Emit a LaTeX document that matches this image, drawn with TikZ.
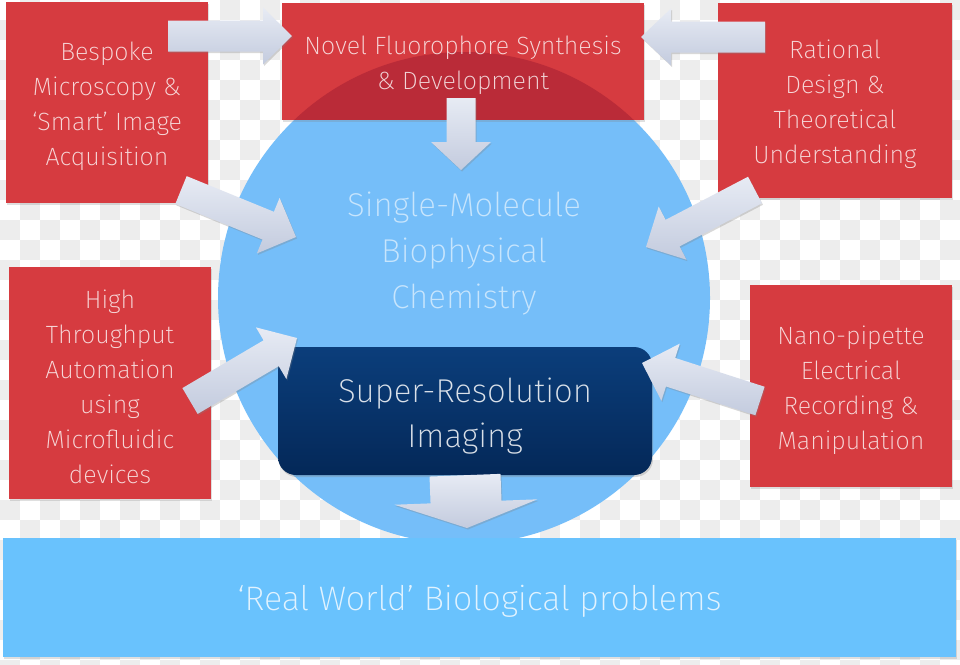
\documentclass[tikz,border=0pt]{standalone}
\usepackage{fontspec}
\setmainfont{Fira Sans ExtraLight}
\usepackage{tikz}
\usetikzlibrary{positioning, calc, shadows}
\definecolor{boxred}{HTML}{D63B40}
\definecolor{overlapred}{HTML}{BA2B38}
\definecolor{circblue}{HTML}{75BEF9}
\definecolor{worldblue}{HTML}{69C2FD}
\definecolor{srtop}{HTML}{0B3E7B}
\definecolor{srbot}{HTML}{042858}
\definecolor{arrowtop}{HTML}{E7EBF4}
\definecolor{arrowbot}{HTML}{C3CBDE}
\definecolor{checkgray}{HTML}{EDEDED}
\tikzset{
  redbox/.style={rectangle,fill=boxred,inner sep=0pt,
    drop shadow={opacity=.25,shadow xshift=1pt,shadow yshift=-2pt}},
  redtext/.style={text=white,text opacity=.8,align=center,yshift=-4pt,font=\fontsize{25}{35}\selectfont},
  bigcircle/.style={circle,fill=circblue,inner sep=0pt,minimum size=492pt},
  circtext/.style={text=white,text opacity=.6,align=center,font=\fontsize{33}{46}\selectfont},
  srbox/.style={rectangle,rounded corners=18pt,top color=srtop,bottom color=srbot,inner sep=0pt,
    minimum width=374pt,minimum height=128pt,drop shadow={opacity=.3,shadow xshift=1pt,shadow yshift=-2pt}},
  srtext/.style={text=white,text opacity=.85,align=center,yshift=-5pt,font=\fontsize{33}{45}\selectfont},
  worldbox/.style={rectangle,fill=worldblue,inner sep=0pt,minimum width=953pt,minimum height=119pt,
    drop shadow={opacity=.25,shadow xshift=1pt,shadow yshift=-2pt}},
  worldtext/.style={text=white,text opacity=.8,yshift=-4pt,font=\fontsize{34}{40}\selectfont},
  fatarrow/.style={top color=arrowtop,bottom color=arrowbot,
    drop shadow={opacity=.3,shadow xshift=1pt,shadow yshift=-1.5pt}},
}
% tail, tip, shaft half width, head half width, head length
\newcommand\fatarrow[5]{%
  \path[fatarrow] ($(#1)!#3!90:(#2)$) -- ($($(#2)!#5!(#1)$)!#3!90:(#2)$)
    -- ($($(#2)!#5!(#1)$)!#4!90:(#2)$) -- (#2)
    -- ($($(#2)!#5!(#1)$)!#4!-90:(#2)$) -- ($($(#2)!#5!(#1)$)!#3!-90:(#2)$)
    -- ($(#1)!#3!-90:(#2)$) -- cycle;}

\begin{document}
\begin{tikzpicture}[x=1pt,y=-1pt]
  \useasboundingbox (0,0) rectangle (960,664);
  \fill[white] (0,0) rectangle (960,664);
  \foreach \i in {0,2,...,46}
    \foreach \j in {0,2,...,32} {
      \fill[checkgray] (\i*20+20,\j*20) rectangle ++(20,20);
      \fill[checkgray] (\i*20,\j*20+20) rectangle ++(20,20);
    }

  \node[bigcircle,label={[circtext,yshift=44pt]center:Single-Molecule\\Biophysical\\Chemistry}] (sm) at (464,298) {};
  \node[worldbox,label={[worldtext]center:‘Real World’ Biological problems}] (rw) at (479.5,597.5) {};

  \node[redbox,minimum width=202pt,minimum height=201pt,
    label={[redtext]center:Bespoke\\Microscopy \&\\‘Smart’ Image\\Acquisition}] (bespoke) at (107,102.5) {};
  \node[redbox,minimum width=362pt,minimum height=117pt,
    path picture={\clip (sm.center) circle (246pt);
      \fill[overlapred] (path picture bounding box.south west) rectangle (path picture bounding box.north east);},
    label={[redtext]center:Novel Fluorophore Synthesis\\\& Development}] (novel) at (463,61.5) {};
  \node[redbox,minimum width=234pt,minimum height=195pt,
    label={[redtext]center:Rational\\Design \&\\Theoretical\\Understanding}] (rational) at (835,100.5) {};
  \node[redbox,minimum width=202pt,minimum height=232pt,
    label={[redtext]center:High\\Throughput\\Automation\\using\\Microfluidic\\devices}] (htp) at (110,383) {};
  \node[redbox,minimum width=202pt,minimum height=202pt,
    label={[redtext]center:Nano-pipette\\Electrical\\Recording \&\\Manipulation}] (nano) at (851,386) {};
  \node[srbox,label={[srtext]center:Super-Resolution\\Imaging}] (sr) at (465,411) {};

  % arrows
  \coordinate (a1) at (168,36);  \coordinate (b1) at (292,36);
  \coordinate (a2) at (765,37);  \coordinate (b2) at (641,37);
  \coordinate (a3) at (461,98);  \coordinate (b3) at (461,170);
  \coordinate (a4) at (181,190); \coordinate (b4) at (296,237);
  \coordinate (a5) at (755,190); \coordinate (b5) at (646,247);
  \coordinate (a6) at (190,401); \coordinate (b6) at (297,338);
  \coordinate (a7) at (760,401); \coordinate (b7) at (642,363);
  \coordinate (b8) at (467,528);
  \fatarrow{a1}{b1}{15.5pt}{28.5pt}{29pt}
  \fatarrow{a2}{b2}{15.5pt}{28.5pt}{30pt}
  \fatarrow{a3}{b3}{14.5pt}{30pt}{28pt}
  \fatarrow{a4}{b4}{15pt}{30pt}{30pt}
  \fatarrow{a5}{b5}{15pt}{30pt}{30pt}
  \fatarrow{a6}{b6}{15pt}{30pt}{30pt}
  \fatarrow{a7}{b7}{15pt}{30pt}{30pt}
  \fatarrow{sr.south}{b8}{35.5pt}{71.5pt}{26pt}
\end{tikzpicture}
\end{document}
